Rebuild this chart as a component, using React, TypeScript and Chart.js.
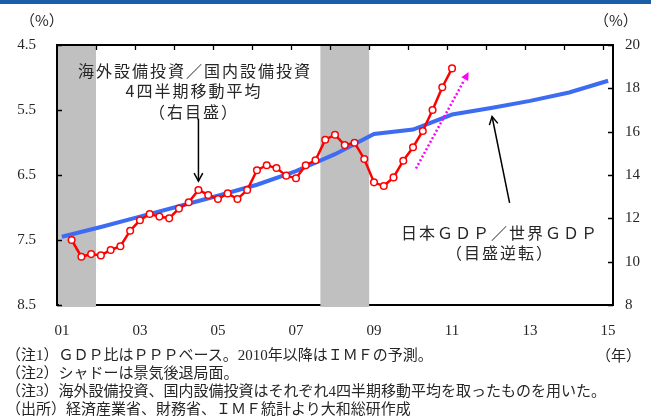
import React, { useEffect, useRef } from 'react';
import { Chart, registerables } from 'chart.js';

Chart.register(...registerables);

// Quarterly axis: index 0 = 2001Q1 ... index 56 = 2015Q1
const xTickLabels = ['01', '03', '05', '07', '09', '11', '13', '15'];
const xTickQuarterIdx = [0, 8, 16, 24, 32, 40, 48, 56];
const xMin = -0.5;
const xMax = 56.5;

// 海外設備投資／国内設備投資 (4Q moving average, right axis, %), 2001Q2 - 2011Q1
const investStartIdx = 1;
const investRatio = [
  11.0, 10.23, 10.35, 10.29, 10.54, 10.71, 11.43, 11.91, 12.2, 12.08,
  12.0, 12.45, 12.74, 13.31, 13.08, 12.89, 13.15, 12.89, 13.31, 14.22,
  14.45, 14.32, 13.97, 13.85, 14.45, 14.68, 15.63, 15.86, 15.38, 15.49,
  14.74, 13.66, 13.49, 13.89, 14.66, 15.28, 16.03, 17.0, 18.05, 18.92,
];

// 日本GDP／世界GDP (left axis, reversed, %), annual 2001 - 2015 (placed at Q1)
const gdpYearsIdx = [0, 4, 8, 12, 16, 20, 24, 28, 32, 36, 40, 44, 48, 52, 56];
const gdpShare = [7.45, 7.30, 7.14, 6.98, 6.82, 6.65, 6.44, 6.18, 5.87, 5.80, 5.57, 5.47, 5.36, 5.23, 5.05];

// Recession shading, quarter index ranges (inclusive)
const recessionStart = [0, 27];
const recessionEnd = [3, 31];

const leftTicks = [4.5, 5.5, 6.5, 7.5, 8.5];
const rightTicks = [8, 10, 12, 14, 16, 18, 20];

const notes = [
  '（注1）ＧＤＰ比はＰＰＰベース。2010年以降はＩＭＦの予測。',
  '（注2）シャドーは景気後退局面。',
  '（注3）海外設備投資、国内設備投資はそれぞれ4四半期移動平均を取ったものを用いた。',
  '（出所）経済産業省、財務省、ＩＭＦ統計より大和総研作成',
];

const FONT = '"Liberation Serif", "Noto Sans CJK JP", serif';
const JFONT = '"Noto Sans CJK JP", "Liberation Serif", sans-serif';
const TXT = '#262626';

function arrowOpen(ctx: CanvasRenderingContext2D, x0: number, y0: number, x1: number, y1: number) {
  ctx.beginPath();
  ctx.moveTo(x0, y0);
  ctx.lineTo(x1, y1);
  ctx.stroke();
  const a = Math.atan2(y1 - y0, x1 - x0);
  const L = 9;
  const w = 0.5;
  ctx.beginPath();
  ctx.moveTo(x1 - L * Math.cos(a - w), y1 - L * Math.sin(a - w));
  ctx.lineTo(x1, y1);
  ctx.lineTo(x1 - L * Math.cos(a + w), y1 - L * Math.sin(a + w));
  ctx.stroke();
}

const framePlugin = {
  id: 'frameAndNotes',
  beforeDatasetsDraw(chart: any) {
    const { ctx, chartArea: ca, scales } = chart;
    const xs = scales.x;
    ctx.save();
    // bottom line (under the shading)
    ctx.strokeStyle = '#000';
    ctx.lineWidth = 2;
    ctx.beginPath();
    ctx.moveTo(ca.left, ca.bottom);
    ctx.lineTo(ca.right, ca.bottom);
    ctx.stroke();
    // recession shading
    ctx.fillStyle = '#c0c0c0';
    for (let i = 0; i < recessionStart.length; i++) {
      const x0 = xs.getPixelForValue(recessionStart[i] - 0.5);
      const x1 = xs.getPixelForValue(recessionEnd[i] + 0.5);
      ctx.fillRect(x0, ca.top, x1 - x0, ca.bottom - ca.top + 2);
    }
    // top, left, right lines
    ctx.beginPath();
    ctx.moveTo(ca.left, ca.bottom + 1);
    ctx.lineTo(ca.left, ca.top);
    ctx.lineTo(ca.right, ca.top);
    ctx.lineTo(ca.right, ca.bottom + 1);
    ctx.stroke();
    ctx.beginPath();
    ctx.moveTo(ca.left - 1, ca.bottom);
    ctx.lineTo(ca.left + 2, ca.bottom);
    ctx.moveTo(ca.right - 2, ca.bottom);
    ctx.lineTo(ca.right + 1, ca.bottom);
    ctx.stroke();
    // tick marks
    ctx.lineWidth = 1.3;
    ctx.beginPath();
    for (let k = 4; k < 57; k += 4) {
      const x = Math.round(xs.getPixelForValue(k - 0.5)) + 0.5;
      ctx.moveTo(x, ca.top);
      ctx.lineTo(x, ca.top + 5);
    }
    const yl = scales.yL;
    leftTicks.forEach((v) => {
      const y = Math.round(yl.getPixelForValue(v)) + 0.5;
      ctx.moveTo(ca.left, y);
      ctx.lineTo(ca.left + 5, y);
    });
    const yr = scales.yR;
    rightTicks.forEach((v) => {
      const y = Math.round(yr.getPixelForValue(v)) + 0.5;
      ctx.moveTo(ca.right - 5, y);
      ctx.lineTo(ca.right, y);
    });
    ctx.stroke();
    ctx.restore();
  },
  afterDatasetsDraw(chart: any) {
    const { ctx, scales } = chart;
    const xs = scales.x;
    const yr = scales.yR;
    const yl = scales.yL;
    ctx.save();
    ctx.fillStyle = TXT;
    ctx.textAlign = 'center';
    ctx.textBaseline = 'middle';
    ctx.font = '16px ' + JFONT;
    (ctx as any).letterSpacing = '2px';
    ctx.fillText('海外設備投資／国内設備投資', 195, 71);
    ctx.fillText('4四半期移動平均', 194, 91);
    ctx.fillText('（右目盛）', 194, 112);
    ctx.fillText('日本ＧＤＰ／世界ＧＤＰ', 500, 233);
    ctx.fillText('（目盛逆転）', 500, 253);
    (ctx as any).letterSpacing = '0px';
    // arrow 1 (to red line)
    ctx.strokeStyle = '#000';
    ctx.lineWidth = 1.5;
    const ax = xs.getPixelForValue(14);
    arrowOpen(ctx, ax, yr.getPixelForValue(16.6), ax, yr.getPixelForValue(13.72));
    // arrow 2 (to blue line)
    arrowOpen(ctx, xs.getPixelForValue(45.9), yl.getPixelForValue(6.93), xs.getPixelForValue(44.1), yl.getPixelForValue(5.6));
    // magenta dotted arrow
    const mx0 = xs.getPixelForValue(36.3);
    const my0 = yr.getPixelForValue(14.3);
    const mx1 = xs.getPixelForValue(41.7);
    const my1 = yr.getPixelForValue(18.75);
    const a = Math.atan2(my1 - my0, mx1 - mx0);
    const L = 9;
    ctx.strokeStyle = '#ff00ff';
    ctx.fillStyle = '#ff00ff';
    ctx.lineWidth = 2.5;
    ctx.setLineDash([2, 2.2]);
    ctx.beginPath();
    ctx.moveTo(mx0, my0);
    ctx.lineTo(mx1 - L * Math.cos(a), my1 - L * Math.sin(a));
    ctx.stroke();
    ctx.setLineDash([]);
    ctx.beginPath();
    ctx.moveTo(mx1, my1);
    ctx.lineTo(mx1 - L * Math.cos(a - 0.45), my1 - L * Math.sin(a - 0.45));
    ctx.lineTo(mx1 - L * Math.cos(a + 0.45), my1 - L * Math.sin(a + 0.45));
    ctx.closePath();
    ctx.fill();
    ctx.restore();
  },
};

export default function App() {
  const ref = useRef<HTMLCanvasElement | null>(null);
  useEffect(() => {
    if (!ref.current) return;
    const chart = new Chart(ref.current, {
      type: 'line',
      data: {
        datasets: [
          {
            label: '海外設備投資／国内設備投資',
            data: investRatio.map((v, i) => ({ x: i + investStartIdx, y: v })),
            yAxisID: 'yR',
            borderColor: '#ff0000',
            borderWidth: 2.5,
            pointRadius: 3.3,
            pointBackgroundColor: '#ffffff',
            pointBorderColor: '#ff0000',
            pointBorderWidth: 1.5,
            tension: 0,
          },
          {
            label: '日本GDP／世界GDP',
            data: gdpShare.map((v, i) => ({ x: gdpYearsIdx[i], y: v })),
            yAxisID: 'yL',
            borderColor: '#3d6cf3',
            borderWidth: 4,
            pointRadius: 0,
            tension: 0,
          },
        ],
      },
      options: {
        animation: false,
        responsive: false,
        devicePixelRatio: 1,
        layout: { padding: { top: 45, left: 0, right: 0, bottom: 0 } },
        plugins: { legend: { display: false }, tooltip: { enabled: false }, title: { display: false } },
        scales: {
          x: {
            type: 'linear',
            min: xMin,
            max: xMax,
            grid: { display: false, drawTicks: false },
            border: { display: false },
            afterBuildTicks: (s: any) => {
              s.ticks = xTickQuarterIdx.map((v) => ({ value: v }));
            },
            afterFit: (s: any) => {
              s.height = 114;
            },
            ticks: {
              autoSkip: false,
              maxRotation: 0,
              padding: 17,
              color: TXT,
              font: { family: FONT, size: 15 },
              callback: (_v: any, i: number) => xTickLabels[i],
            },
          },
          yL: {
            type: 'linear',
            position: 'left',
            reverse: true,
            min: 4.5,
            max: 8.5,
            grid: { display: false, drawTicks: false },
            border: { display: false },
            afterBuildTicks: (s: any) => {
              s.ticks = leftTicks.map((v) => ({ value: v }));
            },
            afterFit: (s: any) => {
              s.width = 57;
            },
            ticks: {
              padding: 21,
              color: TXT,
              font: { family: FONT, size: 15 },
              callback: (v: any) => Number(v).toFixed(1),
            },
          },
          yR: {
            type: 'linear',
            position: 'right',
            min: 8,
            max: 20,
            grid: { display: false, drawTicks: false },
            border: { display: false },
            afterBuildTicks: (s: any) => {
              s.ticks = rightTicks.map((v) => ({ value: v }));
            },
            afterFit: (s: any) => {
              s.width = 38;
            },
            ticks: {
              padding: 12,
              color: TXT,
              font: { family: FONT, size: 15 },
            },
          },
        },
      },
      plugins: [framePlugin],
    } as any);
    return () => chart.destroy();
  }, []);

  return (
    <div style={{ position: 'fixed', left: 0, top: 0, width: 651, height: 419, background: '#fff', overflow: 'hidden' }}>
      <div style={{ position: 'absolute', left: 0, top: 0, width: 651, height: 4, background: '#1a5ea8' }} />
      <canvas ref={ref} width={651} height={419} style={{ position: 'absolute', left: 0, top: 0, width: 651, height: 419 }} />
      <div style={{ position: 'absolute', left: 20, top: 10, font: '15px ' + JFONT, color: TXT, lineHeight: '20px' }}>（%）</div>
      <div style={{ position: 'absolute', left: 594, top: 10, font: '15px ' + JFONT, color: TXT, lineHeight: '20px' }}>（%）</div>
      <div style={{ position: 'absolute', right: 10, top: 346, font: '15px ' + JFONT, color: TXT, lineHeight: '18px' }}>（年）</div>
      <div style={{ position: 'absolute', left: 6, top: 346, font: '15px ' + FONT, color: TXT, lineHeight: '18px', whiteSpace: 'nowrap' }}>
        {notes.map((n) => (
          <div key={n}>{n}</div>
        ))}
      </div>
    </div>
  );
}
